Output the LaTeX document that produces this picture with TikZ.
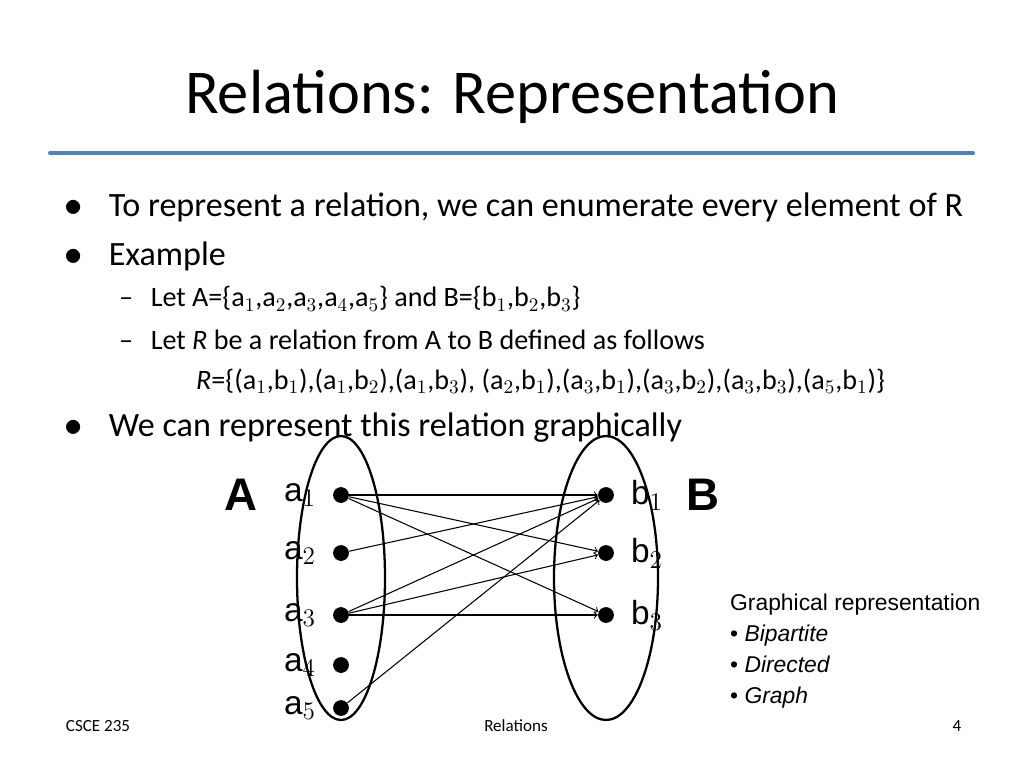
\documentclass[tikz,border=0pt]{standalone}
\usepackage{fontspec}
\setmainfont{Carlito}
\newfontfamily\arialfont{Liberation Sans}
\usetikzlibrary{positioning}
\definecolor{rule}{RGB}{79,129,189}
\tikzset{
    dot/.style = {circle, fill = black, inner sep = 0pt, minimum size = 9pt},
    lbl/.style = {font = \arialfont\fontsize{19}{22}\selectfont},
    rel/.style = {->, >=to, line width = 0.6pt},
}

\begin{document}
\begin{tikzpicture}[x = 0.02cm, y = -0.02cm]
    \useasboundingbox (0,0) rectangle (1024,768);

    % title
    \node (title) at (512,97) {\fontsize{35.5}{40}\selectfont Relations: Representation};
    \draw [rule, line width = 2.3pt, line cap = round] (50,153) -- (973,153);

    % bullets
    \node [anchor = west] (l1) at (58,207) {\fontsize{19.4}{23}\selectfont $\bullet$\hspace{15pt}To represent a relation, we can enumerate every element of R};
    \node [anchor = west] (l2) at (58,256) {\fontsize{19.4}{23}\selectfont $\bullet$\hspace{15pt}Example};
    \node [anchor = west] (l3) at (113,299) {\fontsize{16}{19}\selectfont --\hspace{10pt}Let A=\{a$_1$,a$_2$,a$_3$,a$_4$,a$_5$\} and B=\{b$_1$,b$_2$,b$_3$\}};
    \node [anchor = west] (l4) at (113,340) {\fontsize{16}{19}\selectfont --\hspace{10pt}Let \textit{R} be a relation from A to B defined as follows};
    \node [anchor = west] (l5) at (190,381) {\fontsize{16}{19}\selectfont \textit{R}=\{(a$_1$,b$_1$),(a$_1$,b$_2$),(a$_1$,b$_3$), (a$_2$,b$_1$),(a$_3$,b$_1$),(a$_3$,b$_2$),(a$_3$,b$_3$),(a$_5$,b$_1$)\}};
    \node [anchor = west] (l6) at (58,428) {\fontsize{19.4}{23}\selectfont $\bullet$\hspace{15pt}We can represent this relation graphically};

    % sets
    \draw [line width = 1.3pt] (341,578) ellipse [x radius = 44, y radius = 142];
    \draw [line width = 1.3pt] (606,578) ellipse [x radius = 52, y radius = 142];
    \node [font = \arialfont\bfseries\fontsize{26}{30}\selectfont] (setA) at (241,495) {A};
    \node [font = \arialfont\bfseries\fontsize{26}{30}\selectfont] (setB) at (703,495) {B};

    % elements
    \foreach \i/\y in {1/495, 2/553, 3/615, 4/665, 5/708} {
        \node [dot] (a\i) at (341,\y) {};
        \node [lbl, left = 6pt of a\i] {a$_{\i}$};
    }
    \foreach \i/\y in {1/495, 2/553, 3/615} {
        \node [dot] (b\i) at (606,\y) {};
        \node [lbl, right = 6pt of b\i] {b$_{\i}$};
    }

    % relation
    \foreach \s/\t in {a1/b1, a1/b2, a1/b3, a2/b1, a3/b1, a3/b2, a3/b3, a5/b1}
        \draw [rel] (\s) -- (\t);

    % side note
    \node [anchor = north west, align = left, font = \arialfont\fontsize{13}{17.5}\selectfont] (note) at (724,588)
        {Graphical representation\\ \textbullet\ \textit{Bipartite}\\ \textbullet\ \textit{Directed}\\ \textbullet\ \textit{Graph}};

    % footer
    \node [font = \fontsize{9.7}{12}\selectfont] (course) at (98,726) {CSCE 235};
    \node [font = \fontsize{9.7}{12}\selectfont] (topic) at (516,726) {Relations};
    \node [font = \fontsize{9.7}{12}\selectfont] (page) at (957,726) {4};
\end{tikzpicture}
\end{document}
